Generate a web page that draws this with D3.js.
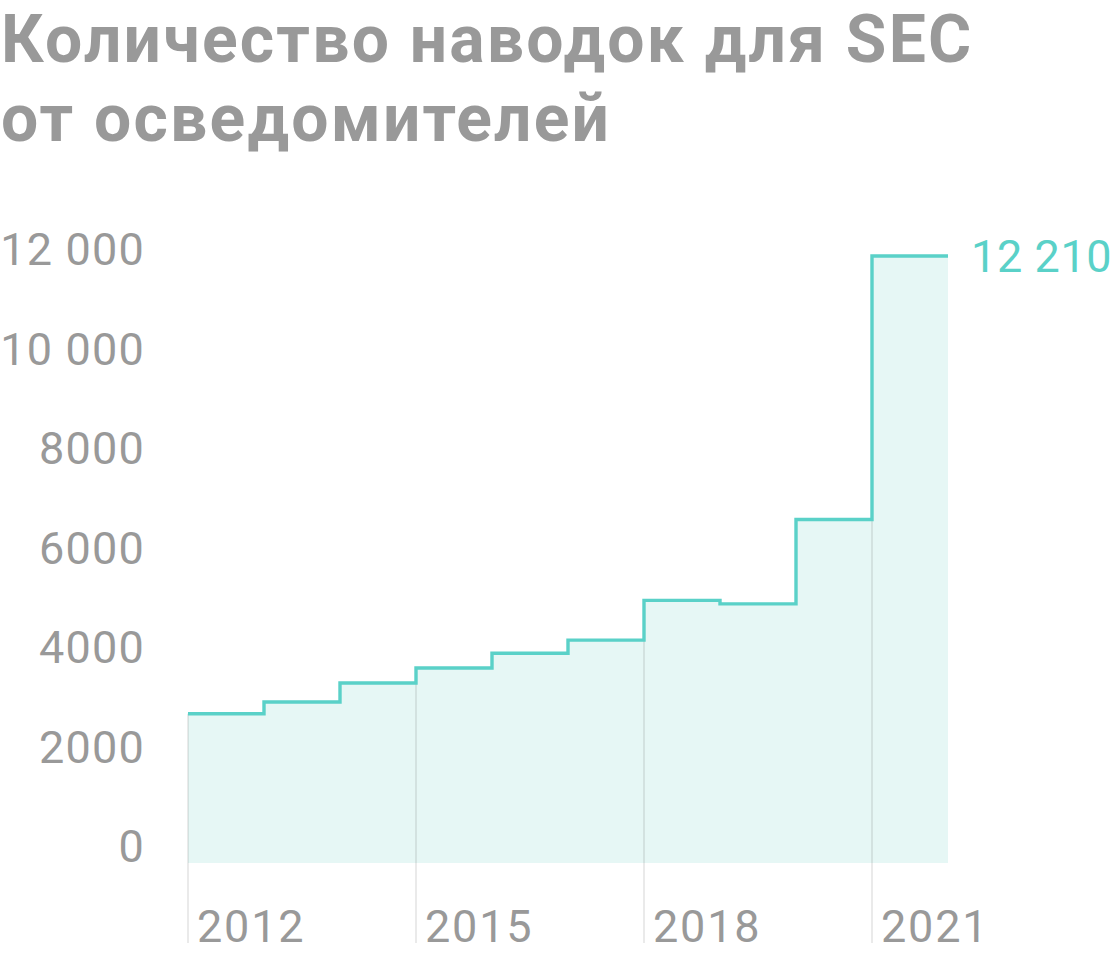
<!DOCTYPE html>
<html>
<head>
<meta charset="utf-8">
<script src="https://cdn.jsdelivr.net/npm/d3@7"></script>
<style>
	html, body { margin: 0; padding: 0; background: #fff; }
	svg { display: block; font-family: Roboto, "Noto Sans", sans-serif; }
</style>
</head>
<body>
<svg id="chart" width="1120" height="960"></svg>
<script>
var titleLines = ['Количество наводок для SEC', 'от осведомителей'];
var years = [2012, 2013, 2014, 2015, 2016, 2017, 2018, 2019, 2020, 2021];
var tips = [3001, 3238, 3620, 3923, 4218, 4484, 5282, 5212, 6911, 12210];
var yTicks = [0, 2000, 4000, 6000, 8000, 10000, 12000];
var xTicks = [2012, 2015, 2018, 2021];
var lastLabel = '12 210';

var teal = '#5ad1c8', gray = '#999';

var svg = d3.select('#chart');

svg.append('g').selectAll('text')
	.data(titleLines)
	.enter().append('text')
	.attr('x', 1)
	.attr('y', function(d, i) { return 62 + i * 79; })
	.style('font-size', '66px')
	.style('font-weight', 700)
	.style('letter-spacing', '2.2px')
	.style('fill', gray)
	.text(function(d) { return d; });

var x = d3.scaleLinear().domain([2012, 2022]).range([188, 948]);
var y = d3.scaleLinear().domain([0, 12210]).range([863, 256]);

// step points, plus one closing point so the last year gets its width
var steps = years.map(function(yr, i) { return [yr, tips[i]]; });
steps.push([years[years.length - 1] + 1, tips[tips.length - 1]]);

function fmt(v) {
	// thousands get a space only from 10 000 up
	return v >= 10000 ? d3.format(',')(v).replace(/,/g, ' ') : String(v);
}

svg.append('path')
	.datum(steps)
	.attr('d', d3.area()
		.curve(d3.curveStepAfter)
		.x(function(d) { return x(d[0]); })
		.y0(y(0))
		.y1(function(d) { return y(d[1]); }))
	.style('fill', '#e6f7f5');

// vertical year rules, from the step down past the labels
svg.append('g').selectAll('line')
	.data(xTicks)
	.enter().append('line')
	.attr('x1', function(d) { return x(d); })
	.attr('x2', function(d) { return x(d); })
	.attr('y1', function(d) { return y(tips[years.indexOf(d)]); })
	.attr('y2', 943)
	.style('stroke', '#000')
	.style('stroke-opacity', 0.13)
	.style('stroke-width', 1.3);

svg.append('path')
	.datum(steps)
	.attr('d', d3.line()
		.curve(d3.curveStepAfter)
		.x(function(d) { return x(d[0]); })
		.y(function(d) { return y(d[1]); }))
	.style('fill', 'none')
	.style('stroke', teal)
	.style('stroke-width', 3.4);

svg.append('g').selectAll('text')
	.data(yTicks)
	.enter().append('text')
	.attr('x', 145)
	.attr('y', function(d) { return y(d) - 1; })
	.attr('text-anchor', 'end')
	.style('font-size', '45px')
	.style('letter-spacing', '1.2px')
	.style('fill', gray)
	.text(fmt);

svg.append('g').selectAll('text')
	.data(xTicks)
	.enter().append('text')
	.attr('x', function(d) { return x(d) + 9; })
	.attr('y', 942)
	.style('font-size', '45px')
	.style('letter-spacing', '1.8px')
	.style('fill', gray)
	.text(function(d) { return d; });

svg.append('text')
	.attr('x', 971)
	.attr('y', y(tips[tips.length - 1]) + 16)
	.style('font-size', '45px')
	.style('letter-spacing', '0.6px')
	.style('fill', teal)
	.text(lastLabel);
</script>
</body>
</html>
